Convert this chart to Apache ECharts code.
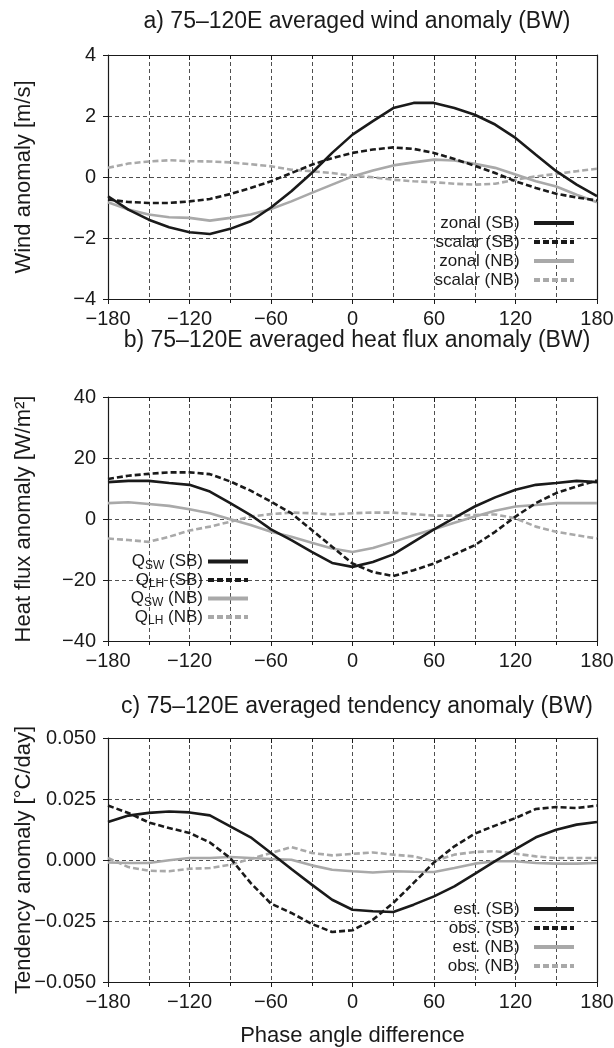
<!DOCTYPE html>
<html>
<head>
<meta charset="utf-8">
<title>BW anomalies</title>
<script src="https://cdn.jsdelivr.net/npm/echarts@6/dist/echarts.min.js"></script>
<style>
  html, body { margin: 0; padding: 0; background: #fff; }
  #chart { width: 614px; height: 1048px; }
</style>
</head>
<body>
<div id="chart"></div>
<script>
// phase angle difference (deg)
var phase = [-180, -165, -150, -135, -120, -105, -90, -75, -60, -45, -30, -15, 0,
             15, 30, 45, 60, 75, 90, 105, 120, 135, 150, 165, 180];

// a) wind anomaly [m/s]
var zonalSB  = [-0.63, -1.07, -1.4, -1.65, -1.81, -1.87, -1.7, -1.45, -1.0, -0.47, 0.13, 0.79, 1.39,
                1.83, 2.26, 2.43, 2.43, 2.26, 2.04, 1.72, 1.28, 0.73, 0.19, -0.25, -0.63];
var scalarSB = [-0.74, -0.82, -0.85, -0.85, -0.8, -0.72, -0.56, -0.36, -0.14, 0.13, 0.4, 0.62, 0.79,
                0.9, 0.97, 0.92, 0.79, 0.59, 0.37, 0.13, -0.14, -0.36, -0.55, -0.67, -0.77];
var zonalNB  = [-0.83, -1.07, -1.23, -1.32, -1.34, -1.43, -1.34, -1.23, -1.05, -0.8, -0.52, -0.25, 0.02,
                0.21, 0.38, 0.48, 0.57, 0.54, 0.43, 0.3, 0.08, -0.14, -0.31, -0.58, -0.83];
var scalarNB = [0.3, 0.44, 0.51, 0.55, 0.52, 0.51, 0.48, 0.42, 0.35, 0.24, 0.19, 0.13, 0.04,
                -0.01, -0.09, -0.14, -0.17, -0.22, -0.25, -0.22, -0.09, 0.02, 0.1, 0.19, 0.27];

// b) heat flux anomaly [W/m2]
var qswSB = [12.1, 12.5, 12.5, 11.8, 11.2, 9.0, 5.2, 1.3, -3.4, -6.9, -10.8, -14.4, -15.7,
             -14.1, -11.6, -7.5, -3.4, 0.4, 4.1, 7.1, 9.6, 11.2, 11.8, 12.5, 12.1];
var qlhSB = [13.1, 14.2, 14.8, 15.3, 15.3, 14.7, 12.3, 9.3, 5.7, 1.9, -3.6, -9.1, -14.6,
             -17.4, -18.7, -16.8, -14.6, -11.6, -8.6, -4.2, 0.8, 5.2, 8.5, 10.7, 12.6];
var qswNB = [5.2, 5.5, 4.9, 4.3, 3.2, 1.9, -0.1, -2.0, -4.2, -5.8, -7.8, -9.7, -10.8,
             -9.5, -7.5, -5.3, -3.4, -1.2, 0.8, 2.7, 4.1, 4.6, 5.2, 5.2, 5.2];
var qlhNB = [-6.4, -6.9, -7.5, -5.8, -3.8, -2.5, -0.9, 0.8, 1.6, 2.1, 1.9, 1.5, 1.9,
             2.1, 2.1, 1.6, 1.1, 1.1, 1.3, 1.5, 0.2, -2.5, -4.2, -5.3, -6.4];

// c) tendency anomaly [degC/day]
var estSB = [0.0156, 0.0182, 0.0193, 0.0199, 0.0195, 0.0183, 0.0138, 0.0093, 0.0029, -0.0037, -0.0101, -0.0163, -0.0204,
             -0.0210, -0.0213, -0.0183, -0.0149, -0.0108, -0.0057, -0.0005, 0.0045, 0.0093, 0.0124, 0.0145, 0.0156];
var obsSB = [0.0223, 0.0193, 0.0154, 0.0131, 0.0111, 0.0072, 0.0008, -0.0094, -0.0179, -0.0217, -0.0262, -0.0295, -0.0288,
             -0.0245, -0.0176, -0.0094, -0.001, 0.0056, 0.0108, 0.0141, 0.0172, 0.0209, 0.0217, 0.0213, 0.0223];
var estNB = [-0.001, -0.0012, -0.0012, -0.0001, 0.0008, 0.0008, 0.0012, 0.0008, 0.0004, 0.0001, -0.0022, -0.004, -0.0046,
             -0.0051, -0.0046, -0.0048, -0.0049, -0.0033, -0.0015, -0.0005, -0.0005, -0.0012, -0.0015, -0.0015, -0.0012];
var obsNB = [0.0008, -0.0029, -0.0044, -0.0046, -0.0036, -0.0033, -0.0019, 0.0004, 0.0029, 0.0053, 0.0029, 0.0019, 0.0025,
             0.0031, 0.0022, 0.0015, -0.0005, 0.0022, 0.0033, 0.0036, 0.0026, 0.0015, 0.0008, 0.0008, 0.0008];

var FONT = 'Liberation Sans';
var BLACK = '#1a1a1a', GRAY = '#a9a9a9';
var gridTops = [55, 397, 738], gridH = 244;

function minus(s) { return String(s).replace('-', '\u2212'); }

function mkLine(name, idx, vals, color, dashed) {
  return {
    name: name, type: 'line', xAxisIndex: idx, yAxisIndex: idx,
    data: phase.map(function (p, i) { return [p, vals[i]]; }),
    symbol: 'none', smooth: false,
    lineStyle: { color: color, width: 2.6, type: dashed ? [6, 3] : 'solid' },
    itemStyle: { color: color },
    z: color === BLACK ? 4 : 3
  };
}

var dashGrid = { show: true, lineStyle: { color: '#222', width: 0.8, type: [4, 3] } };

var xAxes = [], yAxes = [];
var yCfg = [
  { min: -4, max: 4, interval: 2, name: 'Wind anomaly [m/s]', fmt: function (v) { return minus(v); } },
  { min: -40, max: 40, interval: 20, name: 'Heat flux anomaly [W/m\u00b2]', fmt: function (v) { return minus(v); } },
  { min: -0.05, max: 0.05, interval: 0.025, name: 'Tendency anomaly [\u00b0C/day]', fmt: function (v) { return minus(v.toFixed(3)); } }
];
for (var g = 0; g < 3; g++) {
  xAxes.push({
    type: 'value', gridIndex: g, min: -180, max: 180, interval: 60,
    name: g === 2 ? 'Phase angle difference' : '',
    nameLocation: 'middle', nameGap: 43, nameMoveOverlap: false,
    nameTextStyle: { fontFamily: FONT, fontSize: 22, color: BLACK },
    axisLine: { show: true, onZero: false, lineStyle: { color: BLACK, width: 1.2 } },
    axisTick: { show: true, length: 5, lineStyle: { color: BLACK } },
    minorTick: { show: true, splitNumber: 2, length: 4, lineStyle: { color: BLACK } },
    axisLabel: { fontFamily: FONT, fontSize: 20, color: BLACK, margin: 10, formatter: function (v) { return minus(v); } },
    splitLine: dashGrid, minorSplitLine: dashGrid
  });
  yAxes.push({
    type: 'value', gridIndex: g, min: yCfg[g].min, max: yCfg[g].max, interval: yCfg[g].interval,
    name: yCfg[g].name, nameLocation: 'middle', nameGap: 73, nameMoveOverlap: false,
    nameTextStyle: { fontFamily: FONT, fontSize: 22, color: BLACK },
    axisLine: { show: true, onZero: false, lineStyle: { color: BLACK, width: 1.2 } },
    axisTick: { show: true, length: 5, lineStyle: { color: BLACK } },
    axisLabel: { fontFamily: FONT, fontSize: 20, color: BLACK, margin: 12, formatter: yCfg[g].fmt },
    splitLine: dashGrid
  });
}
// frame: top and right axes with inward ticks
for (var g2 = 0; g2 < 3; g2++) {
  xAxes.push({
    type: 'value', gridIndex: g2, position: 'top', min: -180, max: 180, interval: 60,
    axisLine: { show: true, onZero: false, lineStyle: { color: BLACK, width: 1.2 } },
    axisTick: { show: true, inside: true, length: 5, lineStyle: { color: BLACK } },
    minorTick: { show: true, splitNumber: 2, length: 4, lineStyle: { color: BLACK } },
    axisLabel: { show: false }, splitLine: { show: false }
  });
  yAxes.push({
    type: 'value', gridIndex: g2, position: 'right', min: yCfg[g2].min, max: yCfg[g2].max, interval: yCfg[g2].interval,
    axisLine: { show: true, onZero: false, lineStyle: { color: BLACK, width: 1.2 } },
    axisTick: { show: true, inside: true, length: 5, lineStyle: { color: BLACK } },
    axisLabel: { show: false }, splitLine: { show: false }
  });
}

var titles = ['a) 75\u2013120E averaged wind anomaly (BW)',
              'b) 75\u2013120E averaged heat flux anomaly (BW)',
              'c) 75\u2013120E averaged tendency anomaly (BW)'];
var titleTops = [5, 324, 690];

var legendBase = {
  orient: 'vertical', align: 'right', padding: 0, itemGap: 1,
  itemWidth: 40, itemHeight: 17,
  lineStyle: { width: 4, opacity: 1 },
  itemStyle: { opacity: 0 },
  textStyle: { fontFamily: FONT, fontSize: 17, color: BLACK, lineHeight: 18 },
  selectedMode: false
};

function legend(extra) {
  var o = {};
  for (var k in legendBase) o[k] = legendBase[k];
  for (var k2 in extra) o[k2] = extra[k2];
  return o;
}

var option = {
  backgroundColor: '#fff',
  animation: false,
  title: titles.map(function (t, i) {
    return { text: t, left: 352, top: titleTops[i], textAlign: 'center',
             textStyle: { fontFamily: FONT, fontSize: 23, fontWeight: 'normal', color: BLACK } };
  }),
  grid: gridTops.map(function (t) {
    return { left: 108, right: 17, top: t, height: gridH, containLabel: false, outerBoundsMode: 'none' };
  }),
  xAxis: xAxes,
  yAxis: yAxes,
  legend: [
    legend({ right: 38, top: 214, data: ['zonal (SB)', 'scalar (SB)', 'zonal (NB)', 'scalar (NB)'],
             formatter: function (n) { return n + '  '; } }),
    legend({ right: 364, top: 553, itemGap: 0,
             data: ['QSW (SB)', 'QLH (SB)', 'QSW (NB)', 'QLH (NB)'],
             formatter: function (n) {
               return '{m|Q}{s|' + n.substr(1, 2) + '}{m|' + n.substr(3) + '}';
             },
             textStyle: { fontFamily: FONT, fontSize: 17, color: BLACK,
                          rich: { m: { fontFamily: FONT, fontSize: 17, color: BLACK, lineHeight: 20 },
                                  s: { fontFamily: FONT, fontSize: 12, color: BLACK, verticalAlign: 'bottom' } } } }),
    legend({ right: 38, top: 900, data: ['est. (SB)', 'obs. (SB)', 'est. (NB)', 'obs. (NB)'],
             formatter: function (n) { return n + '  '; } })
  ],
  series: [
    mkLine('zonal (SB)', 0, zonalSB, BLACK, false),
    mkLine('scalar (SB)', 0, scalarSB, BLACK, true),
    mkLine('zonal (NB)', 0, zonalNB, GRAY, false),
    mkLine('scalar (NB)', 0, scalarNB, GRAY, true),
    mkLine('QSW (SB)', 1, qswSB, BLACK, false),
    mkLine('QLH (SB)', 1, qlhSB, BLACK, true),
    mkLine('QSW (NB)', 1, qswNB, GRAY, false),
    mkLine('QLH (NB)', 1, qlhNB, GRAY, true),
    mkLine('est. (SB)', 2, estSB, BLACK, false),
    mkLine('obs. (SB)', 2, obsSB, BLACK, true),
    mkLine('est. (NB)', 2, estNB, GRAY, false),
    mkLine('obs. (NB)', 2, obsNB, GRAY, true)
  ]
};

var chart = echarts.init(document.getElementById('chart'));
chart.setOption(option);
</script>
</body>
</html>
